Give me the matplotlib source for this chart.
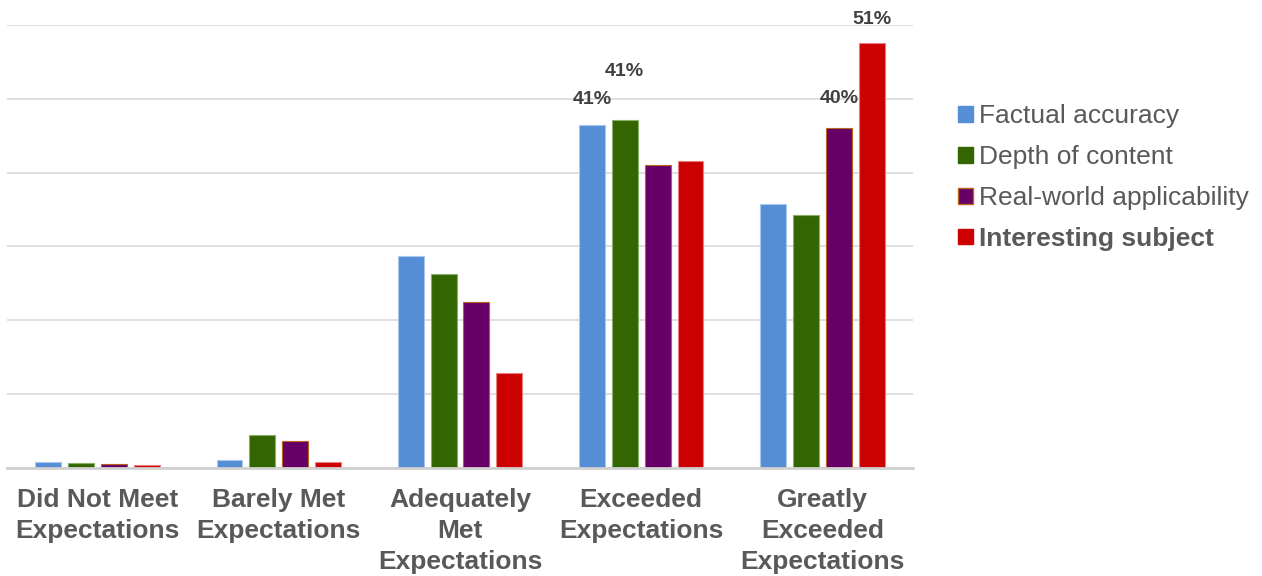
import numpy as np
import matplotlib.pyplot as plt
from matplotlib.patches import Patch

plt.rcParams['font.family'] = ['Liberation Sans', 'DejaVu Sans']

# Rating categories and share of responses (%) for each criterion
categories = ["Did Not Meet\nExpectations", "Barely Met\nExpectations",
              "Adequately\nMet\nExpectations", "Exceeded\nExpectations",
              "Greatly\nExceeded\nExpectations"]
series_names = ["Factual accuracy", "Depth of content",
                "Real-world applicability", "Interesting subject"]
factual = [0.65, 0.86, 25.2, 40.8, 31.4]
depth = [0.5, 3.9, 23.1, 41.4, 30.1]
real_world = [0.4, 3.2, 19.7, 36.0, 40.4]
interesting = [0.3, 0.65, 11.2, 36.5, 50.6]

values = [factual, depth, real_world, interesting]
colors = ['#558ED5', '#336600', '#660066', '#CC0000']
edges = ['#A9C6EC', '#8AAE6A', '#B8651E', '#E88080']

# (category index, series index) -> label offset above bar top, in points
labelled = {(3, 0): 18, (3, 1): 34.5, (4, 2): 21.6, (4, 3): 16.3}

fig = plt.figure(figsize=(12.62, 5.76), dpi=100)
ax = fig.add_axes([7 / 1262, (576 - 467.5) / 576, 906 / 1262, 442.5 / 576])

x = np.arange(len(categories))
pitch = 0.1814
width = 0.1434
for i, (vals, c, ec) in enumerate(zip(values, colors, edges)):
    pos = x + (i - 1.5) * pitch
    ax.bar(pos, vals, width, color=c, edgecolor=ec, linewidth=0.8, zorder=3)
    for j, v in enumerate(vals):
        if (j, i) in labelled:
            ax.annotate(f"{v:.0f}%", (pos[j], v), xytext=(0, labelled[(j, i)]),
                        textcoords='offset points', ha='center', va='center',
                        fontsize=14, fontweight='bold', color='#404040',
                        annotation_clip=False)

ymax = 52.7
ax.set_ylim(0, ymax)
ax.set_xlim(-0.5, 4.5)
ax.set_yticks(np.linspace(0, ymax, 7))
ax.yaxis.grid(True, color='#D9D9D9', linewidth=1.2, zorder=0)
ax.set_axisbelow(True)
ax.tick_params(axis='y', left=False, labelleft=False)
ax.tick_params(axis='x', length=0, pad=14.5)
ax.set_xticks(x)
ax.set_xticklabels(categories, fontsize=19, fontweight='bold',
                   color='#595959', linespacing=1.37)
for side in ['left', 'right', 'top']:
    ax.spines[side].set_visible(False)
ax.spines['bottom'].set_color('#D0D0D0')
ax.spines['bottom'].set_linewidth(2)
ax.spines['bottom'].set_zorder(4)

handles = [Patch(facecolor=c, edgecolor=ec if i == 2 else c, linewidth=1)
           for i, (c, ec) in enumerate(zip(colors, edges))]
leg = fig.legend(handles, series_names, loc='upper left',
                 bbox_to_anchor=(945 / 1262, 1 - 91 / 576), frameon=False,
                 fontsize=19, handlelength=0.55, handleheight=0.55,
                 handletextpad=0.25, labelspacing=0.64, borderpad=0,
                 labelcolor='#595959')
leg.get_texts()[3].set_fontweight('bold')

fig.savefig('out.png', dpi=100)
